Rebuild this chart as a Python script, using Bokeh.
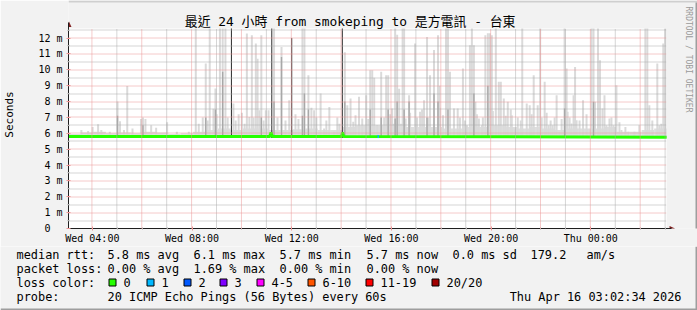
import datetime as dt
import math
from math import pi
from bokeh.plotting import figure
from bokeh.layouts import column
from bokeh.models import (Range1d, FixedTicker, DatetimeTickFormatter, CustomJSTickFormatter,
                          ColumnDataSource)
from bokeh.core.properties import value
from bokeh.embed import file_html
from bokeh.resources import INLINE

# ---------------- data ----------------
START = dt.datetime(2026, 4, 15, 3, 2, 34)
END = START + dt.timedelta(hours=24)
DAY0 = dt.datetime(2026, 4, 15)          # Wed 00:00, spike times are hours from here

y_top = 12.6                              # upper limit of the value axis (ms)
smoke_floor = 5.7                         # ms

# light-grey smoke floor, one value per half hour starting at START
base_top = [5.95, 6.05, 6.1, 6.0, 6.05, 6.0, 6.1, 6.05, 5.95, 6.0,
            6.1, 6.2, 6.3, 6.2, 6.3, 6.3, 6.2, 6.2, 6.25, 6.3,
            6.2, 6.2, 6.4, 6.5, 6.5, 6.5, 6.6, 6.4, 6.4, 6.4,
            6.3, 6.3, 6.4, 6.4, 6.5, 6.4, 6.3, 6.4, 6.3, 6.2,
            6.3, 6.3, 6.3, 6.4, 6.1, 6.1, 6.2, 6.3]

# smoke spikes: time (h since Wed 00:00), outer (max) value, inner value (0 = none)
spike_t = [3.56, 3.83, 4.01, 4.23, 4.36, 4.70, 5.01, 5.11, 5.27, 5.40, 5.61, 5.95, 6.03, 6.13,
           6.36, 6.56, 7.00, 7.39, 7.87,
           8.15, 8.55, 8.71, 8.86, 8.94, 9.12, 9.23, 9.34, 9.66, 10.0, 10.2, 10.3, 10.4,
           10.56, 10.63, 10.7, 10.78, 10.96, 11.07, 11.29, 11.59, 11.9, 12.43, 12.51, 12.67,
           12.9, 13.16, 13.3, 13.51, 13.7, 14.13, 14.23, 14.36, 14.47, 14.56, 14.7, 14.83, 14.99,
           15.15, 15.23, 15.31, 15.43, 15.59, 15.79, 15.87, 16.03, 16.15, 16.23, 16.31, 16.45,
           16.51, 16.57, 16.71, 16.95, 17.15, 17.31, 17.43, 17.55, 17.71, 17.87, 17.93, 18.07,
           18.19, 18.27, 18.35, 18.51, 18.66, 18.87, 19.03,
           19.15, 19.23, 19.31, 19.37, 19.51, 19.63, 19.77, 19.87, 19.95, 20.03, 20.19, 20.31,
           20.39, 20.51, 20.67, 20.83, 20.95, 21.25, 21.43, 21.55, 21.71, 21.87, 21.97, 22.15,
           22.31, 22.47, 22.63, 22.75, 22.95, 23.03,
           23.07, 23.23, 23.31, 23.37, 23.43, 23.69, 24.03, 24.11, 24.17, 24.29, 24.37, 24.47,
           24.55, 24.63, 24.75, 24.91, 25.03, 25.23, 25.51, 25.75, 26.19, 26.27, 26.35, 26.67,
           26.75, 26.91, 26.99,
           8.27, 8.43, 8.63, 8.99, 9.43, 9.75, 9.87, 10.11, 10.47, 10.87,
           11.43, 11.75, 12.15, 12.27, 12.79, 12.99, 13.39, 13.83, 13.91,
           15.07, 15.71, 15.95, 16.75, 17.03, 17.23, 17.51, 17.95, 18.23, 18.75, 18.95,
           19.43, 19.67, 20.07, 20.59, 20.79, 21.07, 21.19, 21.63, 22.03, 22.23, 22.39, 22.55,
           22.83, 23.15, 23.55, 23.83, 24.83, 25.15, 25.39, 25.95, 26.47, 26.83]
spike_top = [6.2, 6.15, 6.4, 6.57, 6.2, 6.1, 8.0, 6.76, 6.2, 8.97, 6.3, 6.9, 7.0, 6.9,
             6.5, 6.35, 6.7, 6.1, 6.1,
             12.6, 10.4, 12.6, 7.55, 8.82, 12.6, 12.6, 12.6, 7.87, 7.3, 12.28, 7.03, 12.18,
             11.65, 10.7, 7.45, 12.18, 7.45, 7.45, 12.6, 11.44, 8.08, 12.6, 12.6, 9.66,
             7.45, 8.5, 6.3, 7.66, 6.1, 11.1, 7.77, 8.19, 6.72, 7.14, 8.3, 6.93, 8.4,
             9.97, 9.97, 9.5, 6.5, 9.87, 9.66, 9.66, 7.56, 12.6, 12.2, 8.81, 12.6,
             12.6, 6.93, 8.4, 11.66, 7.35, 8.08, 12.06, 9.66, 11.24, 12.18, 9.0, 7.14,
             12.6, 12.6, 9.87, 7.56, 7.56, 10.08, 6.5,
             11.55, 12.6, 11.55, 7.98, 6.93, 6.5, 12.18, 12.3, 12.3, 12.18, 12.6, 9.24,
             9.24, 8.19, 7.98, 7.14, 6.3, 12.6, 7.87, 7.77, 9.66, 7.77, 12.6, 9.24,
             6.5, 6.5, 8.4, 6.09, 12.6, 10.08,
             7.35, 6.62, 8.4, 10.18, 6.82, 8.08, 12.6, 12.6, 7.98, 12.6, 10.6, 7.56,
             8.4, 6.5, 6.93, 6.5, 9.03, 6.2, 6.09, 6.09, 12.6, 12.6, 7.77, 10.4,
             6.5, 11.65, 12.6,
             6.6, 7.0, 6.8, 7.2, 7.0, 6.8, 7.2, 6.6, 7.0, 6.8,
             7.0, 6.8, 7.2, 6.9, 7.6, 7.0, 6.8, 7.0, 6.6,
             6.9, 7.0, 7.2, 7.3, 7.0, 7.5, 7.0, 7.6, 7.1, 7.0, 6.8,
             7.2, 7.0, 7.4, 7.1, 7.5, 7.0, 6.8, 7.2, 7.0, 7.3, 6.8, 7.0,
             6.9, 7.0, 6.8, 7.2, 7.0, 6.7, 6.4, 6.5, 6.8, 6.6]
spike_mid = [0, 0, 0, 0, 0, 0, 7.1, 0, 0, 0, 0, 0, 6.5, 0,
             0, 0, 0, 0, 0,
             0, 7.0, 0, 0, 7.5, 0, 9.87, 0, 0, 0, 0, 0, 0,
             0, 0, 0, 7.0, 0, 0, 8.0, 10.8, 0, 7.1, 8.5, 7.5,
             0, 0, 0, 0, 0, 8.0, 0, 0, 0, 0, 0, 0, 0,
             7.5, 0, 0, 0, 7.0, 0, 7.5, 0, 6.93, 8.0, 0, 0,
             7.5, 0, 8.0, 0, 0, 0, 7.0, 0, 8.5, 8.0, 0, 0,
             0, 7.5, 0, 0, 0, 0, 0,
             0, 0, 8.5, 0, 0, 0, 0, 9.0, 0, 0, 0, 0,
             0, 0, 0, 0, 0, 0, 0, 0, 0, 0, 0, 0,
             0, 0, 0, 0, 7.56, 0,
             0, 0, 0, 0, 0, 0, 0, 7.98, 0, 0, 0, 0,
             0, 0, 0, 0, 0, 0, 0, 0, 0, 0, 0, 0,
             0, 0, 0,
             0, 0, 0, 0, 0, 0, 0, 0, 0, 0,
             0, 0, 0, 0, 0, 0, 0, 0, 0,
             0, 0, 0, 0, 0, 0, 0, 0, 0, 0, 0,
             0, 0, 0, 0, 0, 0, 0, 0, 0, 0, 0, 0,
             0, 0, 0, 0, 0, 0, 0, 0, 0, 0]

# near-black smoke (most pings high)
dark_t = [9.58, 11.2, 12.0, 14.03]
dark_top = [12.6, 12.6, 12.0, 12.6]

# median rtt line
median_t = [3.043, 11.12, 11.17, 11.22, 14.0, 14.04, 14.08, 27.043]
median_v = [5.8, 5.8, 6.05, 5.8, 5.8, 6.05, 5.8, 5.75]
loss1_t = [15.44, 15.5]
loss1_v = [5.8, 5.8]

label_hours = [4, 8, 12, 16, 20, 24]
major_grid_hours = [4, 6, 8, 10, 12, 14, 16, 18, 20, 22, 24, 26]
minor_grid_hours = [5, 7, 9, 11, 13, 15, 17, 19, 21, 23, 25, 27]
y_ticks = list(range(0, 13))
y_major = list(range(1, 13))
y_minor = [0.5, 1.5, 2.5, 3.5, 4.5, 5.5, 6.5, 7.5, 8.5, 9.5, 10.5, 11.5, 12.5]

title = "最近 24 小時 from smokeping to 是方電訊 - 台東"
y_label = "Seconds"
watermark = "RRDTOOL / TOBI OETIKER"
row_heads = ["median rtt:", "packet loss:", "loss color:", "probe:"]
rtt_stats = ["5.8 ms avg", "6.1 ms max", "5.7 ms min", "5.7 ms now", "0.0 ms sd", "179.2", "am/s"]
loss_stats = ["0.00 % avg", "1.69 % max", "0.00 % min", "0.00 % now"]
loss_labels = ["0", "1", "2", "3", "4-5", "6-10", "11-19", "20/20"]
loss_colors = ["#26ff00", "#00b8ff", "#0059ff", "#7e00ff", "#ff00ff", "#ff5500", "#ff0000", "#a10000"]
probe_text = "20 ICMP Echo Pings (56 Bytes) every 60s"
stamp_text = "Thu Apr 16 03:02:34 2026"

# ---------------- helpers ----------------
EPOCH = dt.datetime(1970, 1, 1)
def ms(d):
    return (d - EPOCH).total_seconds() * 1000.0
def hrs(h):
    return ms(DAY0) + h * 3600000.0

MONO = "DejaVu Sans Mono"
CW, CH = 697, 310
MAIN_H = 246                     # main figure height; legend figure below
FL, FB = 66, 228                 # canvas px of chart left edge / zero line
PX_MS = 24 * 3600000.0 / 600.0   # ms per pixel (600 px for 24 h)
PY = y_top / 200.0               # value per pixel (200 px for the value axis)

def cx(x):   # canvas px -> x data (decorations only)
    return ms(START) + (x - FL) * PX_MS
def cy(y):
    return (FB - y) * PY
def snap_x(xd):   # put a 1px line on a pixel centre
    px = FL + (xd - ms(START)) / PX_MS
    return cx(math.floor(px) + 0.5)
def snap_y(v):
    py = FB - v / PY
    return cy(math.floor(py) + 0.5)

BG = "#f2f2f2"
SHADE_A = "#cfcfcf"
SHADE_B = "#9e9e9e"
GRID_C = "#ababab"
MGRID_C = "#eb9595"
ARROW_C = "#801f1f"
AXIS_C = "#1f1f1f"

p = figure(width=CW, height=MAIN_H, output_backend="svg", toolbar_location=None, title=None,
           x_axis_type="datetime", x_range=Range1d(cx(FL), cx(CW)), y_range=Range1d(cy(FB), cy(0)),
           min_border_left=FL, min_border_right=0, min_border_top=0,
           min_border_bottom=MAIN_H - FB, frame_align=False,
           background_fill_color=BG, border_fill_color=BG, outline_line_color=None)
p.xgrid.visible = False
p.ygrid.visible = False

# white chart canvas
p.quad(left=[ms(START)], right=[ms(END)], bottom=[0], top=[y_top], fill_color="white",
       line_color=None)

# ---- smoke ----
base_x = [ms(START) + (i + 0.5) * 1800000.0 for i in range(len(base_top))]
p.vbar(x=base_x, width=1800000.0, bottom=smoke_floor, top=base_top,
       fill_color="#dedede", line_color=None)

sx = [hrs(t) for t in spike_t]
p.vbar(x=sx, width=2 * PX_MS, bottom=smoke_floor, top=spike_top, fill_color="#dadada",
       line_color=None)
mid_src = ColumnDataSource(dict(x=[x for x, m in zip(sx, spike_mid) if m > 0],
                                top=[m for m in spike_mid if m > 0]))
p.vbar(x="x", width=1.4 * PX_MS, bottom=smoke_floor, top="top", source=mid_src,
       fill_color="#a8a8a8", line_color=None)
p.vbar(x=[hrs(t) for t in dark_t], width=1.0 * PX_MS, bottom=smoke_floor, top=dark_top,
       fill_color="#2a2a2a", line_color=None)

# ---- median ----
p.line([hrs(t) for t in median_t], median_v, line_color=loss_colors[0], line_width=3)
p.line([hrs(t) for t in loss1_t], loss1_v, line_color=loss_colors[1], line_width=3)

# ---- dotted grid (drawn on top, like rrdtool) ----
gx_min = [snap_x(hrs(h)) for h in minor_grid_hours]
gx_maj = [snap_x(hrs(h)) for h in major_grid_hours]
gy_min = [snap_y(v) for v in y_minor]
gy_maj = [snap_y(v) for v in y_major]
p.segment(x0=gx_min, x1=gx_min, y0=[0] * len(gx_min), y1=[y_top] * len(gx_min),
          line_color=GRID_C, line_width=1, line_dash="1 1", level="overlay")
p.segment(x0=[ms(START)] * len(gy_min), x1=[ms(END)] * len(gy_min), y0=gy_min, y1=gy_min,
          line_color=GRID_C, line_width=1, line_dash="1 1", level="overlay")
p.segment(x0=gx_maj, x1=gx_maj, y0=[0] * len(gx_maj), y1=[y_top] * len(gx_maj),
          line_color=MGRID_C, line_width=1, line_dash="1 1", level="overlay")
p.segment(x0=[ms(START)] * len(gy_maj), x1=[ms(END)] * len(gy_maj), y0=gy_maj, y1=gy_maj,
          line_color=MGRID_C, line_width=1, line_dash="1 1", level="overlay")

# ---- axes ----
xa = p.xaxis[0]
xa.ticker = FixedTicker(ticks=[hrs(h) for h in label_hours],
                        minor_ticks=[hrs(h) for h in major_grid_hours + minor_grid_hours
                                     if h not in label_hours])
xa.formatter = DatetimeTickFormatter(minutes="%a %H:%M", hourmin="%a %H:%M", hours="%a %H:%M",
                                     days="%a %H:%M", context=None)
xa.bounds = (ms(START), cx(671))
xa.axis_line_color = AXIS_C
xa.major_tick_out = 2
xa.major_tick_in = 2
xa.major_tick_line_color = MGRID_C
xa.minor_tick_out = 1
xa.minor_tick_in = 1
xa.minor_tick_line_color = GRID_C
xa.major_label_standoff = 2
xa.major_label_text_font = MONO
xa.major_label_text_font_size = "10px"
xa.major_label_text_color = "black"

ya = p.yaxis[0]
ya.ticker = FixedTicker(ticks=y_ticks, minor_ticks=y_minor)
ya.formatter = CustomJSTickFormatter(code="return tick == 0 ? '0\u00a0\u00a0' : tick.toFixed(0) + ' m';")
ya.bounds = (0, cy(22))
ya.axis_line_color = AXIS_C
ya.major_tick_out = 2
ya.major_tick_in = 2
ya.major_tick_line_color = MGRID_C
ya.minor_tick_out = 1
ya.minor_tick_in = 1
ya.minor_tick_line_color = GRID_C
ya.major_label_standoff = 4
ya.major_label_text_font = MONO
ya.major_label_text_font_size = "10px"
ya.major_label_text_color = "black"
ya.axis_label = y_label
ya.axis_label_text_font = MONO
ya.axis_label_text_font_size = "11px"
ya.axis_label_text_font_style = "normal"
ya.axis_label_text_color = "black"
ya.axis_label_standoff = 19

# ---- decorations inside the main figure (positions in canvas px) ----
p.text(x=[cx(348.5)], y=[cy(21)], text=[title],
       text_font=value("DejaVu Sans Mono, Noto Sans CJK TC"),
       text_font_size=value("12.9px"), text_color="black", text_align="center",
       text_baseline="middle")
p.text(x=[cx(688)], y=[cy(59)], text=[watermark], text_font=value(MONO),
       text_font_size=value("8px"), text_color="#9a9a9a", text_align="center",
       text_baseline="middle", angle=-pi / 2)
# axis arrows
p.patch([cx(64), cx(69), cx(66.5)], [cy(26.5), cy(26.5), cy(21)], fill_color=ARROW_C,
        line_color=None)
p.patch([cx(669), cx(669), cx(674.5)], [cy(225.5), cy(230.5), cy(228)], fill_color=ARROW_C,
        line_color=None)
# image edge (top and right)
p.quad(left=[cx(FL)], right=[cx(CW)], bottom=[cy(2)], top=[cy(0)], fill_color=SHADE_A,
       line_color=None)
p.quad(left=[cx(CW - 2)], right=[cx(CW)], bottom=[cy(MAIN_H)], top=[cy(2)], fill_color=SHADE_B,
       line_color=None)

# ---------------- legend figure (coordinates = canvas px, y from its top) ----------------
LH = CH - MAIN_H
q = figure(width=CW, height=LH, output_backend="svg", toolbar_location=None, title=None,
           x_range=Range1d(0, CW), y_range=Range1d(LH, 0), x_axis_type=None, y_axis_type=None,
           min_border=0, frame_align=False,
           background_fill_color=BG, border_fill_color=BG, outline_line_color=None)

def row_y(canvas_y):
    return canvas_y - MAIN_H

row_ys = [254, 268, 282, 296]
col_x = [107, 193, 279, 366, 452, 530, 586]
txt_x, txt_y, txt = [], [], []
for head, yy in zip(row_heads, row_ys):
    txt_x.append(16); txt_y.append(row_y(yy)); txt.append(head)
for s, xx in zip(rtt_stats, col_x):
    txt_x.append(xx); txt_y.append(row_y(254)); txt.append(s)
for s, xx in zip(loss_stats, col_x):
    txt_x.append(xx); txt_y.append(row_y(268)); txt.append(s)
box_x = [108, 146, 183, 219, 256, 307, 365, 431]
for s, xx in zip(loss_labels, box_x):
    txt_x.append(xx + 15); txt_y.append(row_y(282)); txt.append(s)
txt_x.append(107); txt_y.append(row_y(296)); txt.append(probe_text)
q.text(x=txt_x, y=txt_y, text=txt, text_font=value(MONO), text_font_size=value("11.9px"),
       text_color="black", text_align="left", text_baseline="middle")
q.text(x=[681], y=[row_y(296)], text=[stamp_text], text_font=value(MONO),
       text_font_size=value("11.9px"), text_color="black", text_align="right",
       text_baseline="middle")
q.quad(left=[x + 0.5 for x in box_x], right=[x + 7.5 for x in box_x],
       top=[row_y(278.5)] * len(box_x), bottom=[row_y(285.5)] * len(box_x),
       fill_color=loss_colors, line_color="black", line_width=1)
# image edges
q.quad(left=[0], right=[CW], top=[LH - 2], bottom=[LH], fill_color=SHADE_B, line_color=None)
q.quad(left=[CW - 2], right=[CW], top=[0], bottom=[LH], fill_color=SHADE_B, line_color=None)

layout = column(p, q, spacing=0)
open("out.html", "w").write(file_html(layout, INLINE))
